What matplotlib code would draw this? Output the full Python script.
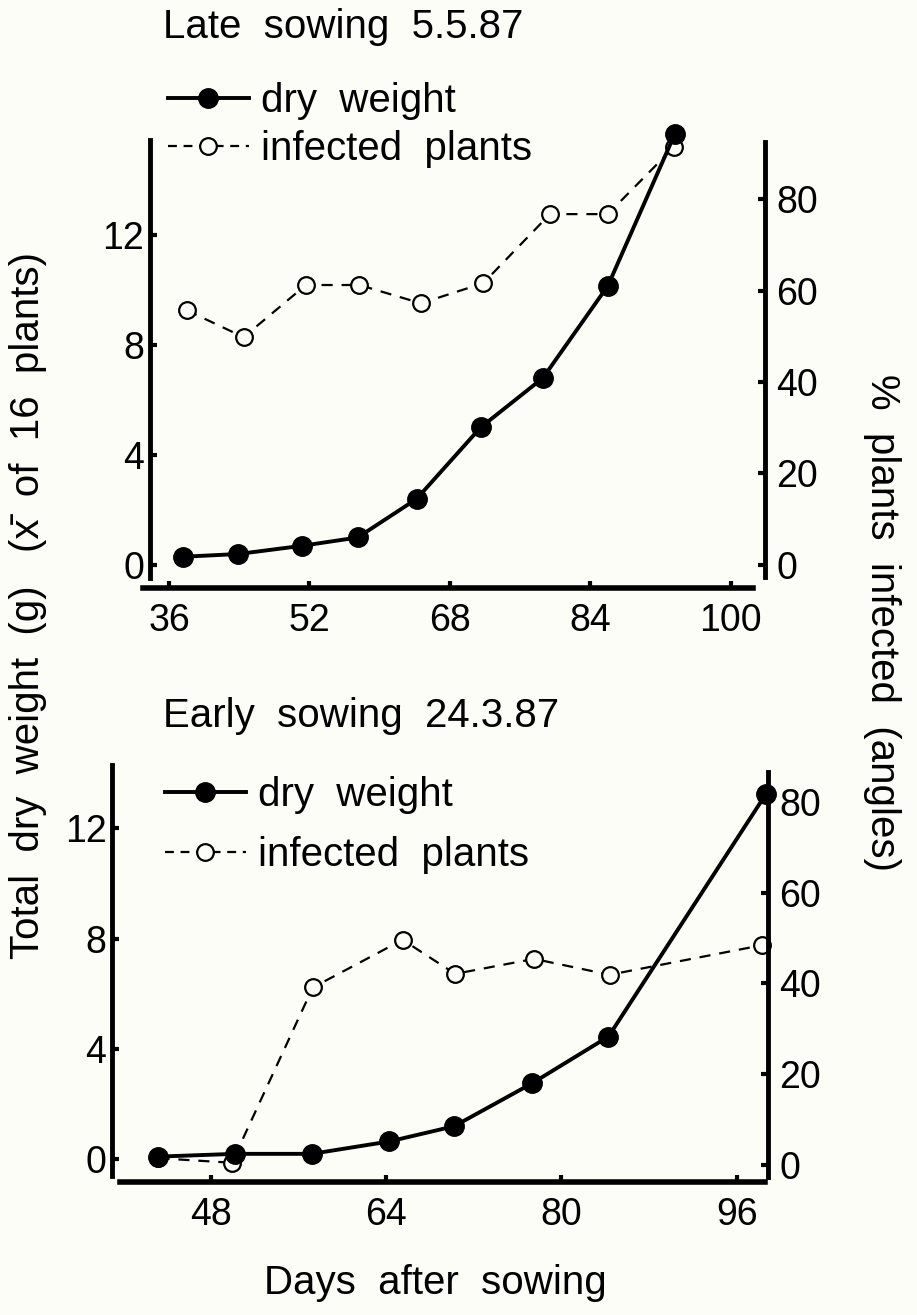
import matplotlib
matplotlib.use('Agg')
import matplotlib.pyplot as plt
from matplotlib.lines import Line2D

# Late sowing 5.5.87
late_days_dry = [37.6, 43.9, 51.2, 57.5, 64.2, 71.5, 78.6, 86.0, 93.6]
late_dry = [0.3, 0.4, 0.7, 1.0, 2.4, 5.0, 6.8, 10.15, 15.65]
late_days_inf = [38.0, 44.5, 51.6, 57.7, 64.7, 71.8, 79.4, 86.0, 93.5]
late_inf = [55.7, 49.8, 61.2, 61.2, 57.2, 61.6, 76.7, 76.7, 91.3]

# Early sowing 24.3.87
early_days_dry = [43.2, 50.2, 57.2, 64.3, 70.2, 77.3, 84.3, 98.7]
early_dry = [0.1, 0.2, 0.2, 0.65, 1.2, 2.75, 4.45, 13.25]
early_days_inf = [43.2, 49.9, 57.3, 65.5, 70.3, 77.5, 84.4, 98.3]
early_inf = [1.5, 0.5, 39.1, 49.6, 42.1, 45.4, 41.9, 48.4]

late_xticks = [36, 52, 68, 84, 100]
early_xticks = [48, 64, 80, 96]
dry_ticks = [0, 4, 8, 12]
inf_ticks = [0, 20, 40, 60, 80]

W, H = 917, 1315
BG = '#fdfdf8'
FS = 29
TICK_FS = 27
plt.rcParams['font.family'] = ['Liberation Sans', 'DejaVu Sans']

fig = plt.figure(figsize=(W / 100, H / 100), dpi=100, facecolor=BG)


def px_box(x0, x1, ytop, ybot):
    # pixel rectangle -> figure fraction
    return [x0 / W, 1 - ybot / H, (x1 - x0) / W, (ybot - ytop) / H]


def draw_panel(box, days_dry, dry, days_inf, inf, xlim, xbound, xticks,
               dry_lim, dry_bound, left_frac, inf_lim, inf_bound,
               leg_anchor, leg_spacing):
    ax = fig.add_axes(box)
    ax2 = ax.twinx()
    # dry weight drawn above the infected curve
    ax.set_zorder(ax2.get_zorder() + 1)
    ax.patch.set_visible(False)
    ax2.patch.set_visible(False)

    ax2.plot(days_inf, inf, color='black', lw=1.6, ls=(0, (5, 4)),
             marker='o', ms=12, mfc=BG, mec='black', mew=1.6, clip_on=False)
    ax.plot(days_dry, dry, color='black', lw=2.8, marker='o', ms=14,
            mfc='black', mec='black', clip_on=False)

    ax.set_xlim(*xlim)
    ax.set_ylim(*dry_lim)
    ax2.set_ylim(*inf_lim)
    ax.set_xticks(xticks)
    ax.set_yticks(dry_ticks)
    ax2.set_yticks(inf_ticks)

    for a in (ax, ax2):
        a.spines['top'].set_visible(False)
    ax.spines['right'].set_visible(False)
    ax2.spines['left'].set_visible(False)
    ax2.spines['bottom'].set_visible(False)

    ax.spines['left'].set_position(('axes', left_frac))
    ax.spines['left'].set_bounds(*dry_bound)
    ax.spines['left'].set_linewidth(3.5)
    ax.spines['bottom'].set_bounds(*xbound)
    ax.spines['bottom'].set_linewidth(4)
    ax2.spines['right'].set_bounds(*inf_bound)
    ax2.spines['right'].set_linewidth(3.5)

    ax.tick_params(axis='both', direction='in', length=5, width=3,
                   labelsize=TICK_FS)
    ax.tick_params(axis='y', pad=4)
    ax.tick_params(axis='x', pad=11)
    ax2.tick_params(axis='y', direction='in', length=5, width=3,
                    labelsize=TICK_FS, pad=8)

    handles = [
        Line2D([], [], color='black', lw=2.8, marker='o', ms=14, mfc='black'),
        Line2D([], [], color='black', lw=1.6, ls=(0, (4, 3)), marker='o',
               ms=12, mfc=BG, mec='black', mew=1.6),
    ]
    ax.legend(handles, ['dry  weight', 'infected  plants'], loc='upper left',
              bbox_to_anchor=leg_anchor, bbox_transform=fig.transFigure,
              frameon=False, fontsize=FS, handlelength=2.0,
              handletextpad=0.3, borderpad=0, borderaxespad=0,
              labelspacing=leg_spacing)
    return ax, ax2


# top panel: late sowing
draw_panel(px_box(143, 765, 140, 588),
           late_days_dry, late_dry, late_days_inf, late_inf,
           xlim=(33.04, 103.9), xbound=(33.04, 102.5), xticks=late_xticks,
           dry_lim=(-0.836, 15.45), dry_bound=(-0.47, 15.45), left_frac=0.011,
           inf_lim=(-5.03, 92.9), inf_bound=(-2.6, 92.5),
           leg_anchor=(168 / W, 1 - 82 / H), leg_spacing=0.25)

# bottom panel: early sowing
draw_panel(px_box(112, 768, 765, 1182),
           early_days_dry, early_dry, early_days_inf, early_inf,
           xlim=(38.96, 98.87), xbound=(39.69, 98.6), xticks=early_xticks,
           dry_lim=(-0.82, 14.29), dry_bound=(-0.6, 14.29), left_frac=0.0,
           inf_lim=(-3.74, 88.1), inf_bound=(-2.6, 86.6),
           leg_anchor=(165 / W, 1 - 776 / H), leg_spacing=0.55)

fig.text(163 / W, 1 - 27 / H, 'Late  sowing  5.5.87', fontsize=FS,
         ha='left', va='center')
fig.text(163 / W, 1 - 716 / H, 'Early  sowing  24.3.87', fontsize=FS,
         ha='left', va='center')
fig.text(435 / W, 1 - 1283 / H, 'Days  after  sowing', fontsize=FS,
         ha='center', va='center')
fig.text(28 / W, 1 - 605 / H,
         'Total  dry  weight  (g)   (x\u0304  of  16  plants)',
         fontsize=FS, rotation=90, ha='center', va='center')
fig.text(882 / W, 1 - 622 / H, '%  plants  infected  (angles)', fontsize=FS,
         rotation=270, ha='center', va='center')

fig.savefig('out.png', dpi=100, facecolor=BG)
